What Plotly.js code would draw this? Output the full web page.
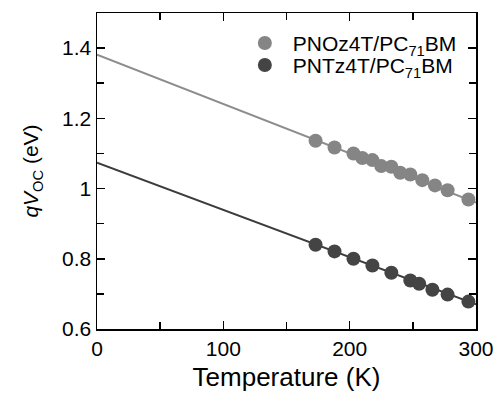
<!DOCTYPE html>
<html>
<head>
<meta charset="utf-8">
<script src="https://cdn.plot.ly/plotly-3.0.1.min.js"></script>
<style>html,body{margin:0;padding:0;background:#fff;}#chart{width:496px;height:396px;}</style>
</head>
<body>
<div id="chart"></div>
<script>
// Temperature (K) and qVoc (eV)
const tempNOz = [173, 188, 203, 210, 218, 225, 233, 240, 248, 257.5, 267.5, 277.5, 294];
const vocNOz  = [1.136, 1.117, 1.100, 1.087, 1.081, 1.064, 1.062, 1.045, 1.040, 1.024, 1.009, 0.995, 0.969];
const tempNTz = [173, 188, 203, 218, 233, 248, 255, 265.5, 277.5, 294];
const vocNTz  = [0.840, 0.821, 0.800, 0.781, 0.760, 0.738, 0.729, 0.712, 0.698, 0.678];
// Linear fits extrapolated to 0 K
const fitT = [0, 300];
const fitNOz = [1.381, 0.960];
const fitNTz = [1.074, 0.670];
const names = ['PNOz4T/PC<sub>71</sub>BM', 'PNTz4T/PC<sub>71</sub>BM'];

const grey = '#858585', dark = '#444444';
const font = 'Liberation Sans, Arial, sans-serif';

const traces = [
  {x: fitT, y: fitNOz, mode: 'lines', line: {color: '#8c8c8c', width: 2}, showlegend: false, hoverinfo: 'skip'},
  {x: fitT, y: fitNTz, mode: 'lines', line: {color: '#3c3c3c', width: 2}, showlegend: false, hoverinfo: 'skip'},
  {x: tempNOz, y: vocNOz, mode: 'markers', name: names[0], legend: 'legend', marker: {color: grey, size: 14}},
  {x: tempNTz, y: vocNTz, mode: 'markers', name: names[1], legend: 'legend2', marker: {color: dark, size: 14}}
];

const axisCommon = {
  showline: true, linecolor: '#000', linewidth: 1.5, mirror: 'ticks',
  ticks: 'inside', ticklen: 8, tickwidth: 1.5, tickcolor: '#000',
  showgrid: false, zeroline: false,
  tickfont: {family: font, size: 21, color: '#000'},
  minor: {ticks: 'inside', ticklen: 7, tickwidth: 1.5, tickcolor: '#000', showgrid: false}
};

const legendCommon = {xanchor: 'left', yanchor: 'top', bgcolor: 'rgba(0,0,0,0)', itemwidth: 46,
  font: {family: font, size: 21, color: '#000'}};

const layout = {
  width: 496, height: 396,
  margin: {l: 97, r: 20, t: 13, b: 67},
  paper_bgcolor: '#fff', plot_bgcolor: '#fff',
  showlegend: true,
  legend: Object.assign({}, legendCommon, {x: 0.369, y: 0.969}),
  legend2: Object.assign({}, legendCommon, {x: 0.369, y: 0.899}),
  xaxis: Object.assign({}, axisCommon, {
    range: [0, 300], dtick: 100, tick0: 0,
    minor: Object.assign({}, axisCommon.minor, {dtick: 50}),
    title: {text: 'Temperature (K)', font: {family: font, size: 26, color: '#000'}, standoff: 9}
  }),
  yaxis: Object.assign({}, axisCommon, {
    range: [0.6, 1.5], dtick: 0.2, tick0: 0.6,
    minor: Object.assign({}, axisCommon.minor, {dtick: 0.1}),
    title: {text: '<i>qV</i><sub>OC</sub> (eV)', font: {family: font, size: 21, color: '#000'}, standoff: 17}
  })
};

Plotly.newPlot('chart', traces, layout, {displayModeBar: false, staticPlot: true});
</script>
</body>
</html>
